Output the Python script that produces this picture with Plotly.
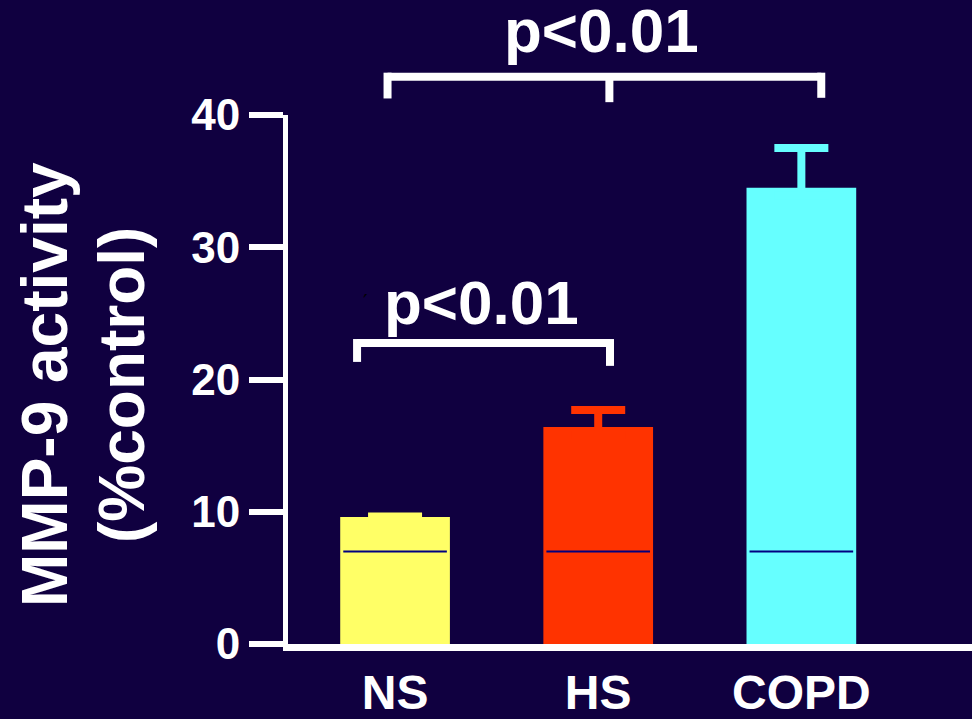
import plotly.graph_objects as go

# ---- data ----
categories = ["NS", "HS", "COPD"]
means = [9.6, 16.4, 34.5]
errors_up = [0.05, 1.3, 3.0]
inner_line = [7.0, 7.0, 7.0]
bar_colors = ["#FFFF66", "#FF3300", "#66FFFF"]
y_ticks = [0, 10, 20, 30, 40]
y_max = 40

# significance brackets (data units)
brackets = [
    dict(x0=-0.037, x1=2.098, xm=1.055, y=42.9, y0=41.25, y1=41.3, ym=40.97,
         label="p<0.01", lx=1.018, ly=46.4),
    dict(x0=-0.187, x1=1.058, xm=None, y=22.76, y0=21.33, y1=21.03, ym=None,
         label="p<0.01", lx=0.426, ly=25.85),
]

FONT = "Liberation Sans, Arial, sans-serif"
BG = "#100040"

fig = go.Figure()
bar_w = 0.54
for i, (cat, m, c) in enumerate(zip(categories, means, bar_colors)):
    fig.add_trace(go.Bar(
        x=[i], y=[m], width=bar_w, marker=dict(color=c, line=dict(width=0)),
        showlegend=False, hoverinfo="skip"))

# upper error bars; base sunk inside the bar so the lower cap is hidden
sink = 0.6
for i, (m, e, c) in enumerate(zip(means, errors_up, bar_colors)):
    fig.add_trace(go.Scatter(
        x=[i], y=[m - sink], mode="markers", marker=dict(size=1, color=c, opacity=0),
        error_y=dict(type="data", array=[e + sink], arrayminus=[0], symmetric=False,
                     color=c, thickness=8, width=27),
        showlegend=False, hoverinfo="skip"))

# thin navy lines inside bars
lx, ly = [], []
for i, v in enumerate(inner_line):
    lx += [i - bar_w / 2 + 0.015, i + bar_w / 2 - 0.015, None]
    ly += [v, v, None]
fig.add_trace(go.Scatter(x=lx, y=ly, mode="lines", line=dict(color="#000080", width=2),
                         showlegend=False, hoverinfo="skip"))

shapes = []
annotations = []
lw = 8


def p(v):
    return v / y_max


for b in brackets:
    shapes.append(dict(type="line", xref="x", yref="paper", x0=b["x0"], x1=b["x1"],
                       y0=p(b["y"]), y1=p(b["y"]), line=dict(color="white", width=lw)))
    shapes.append(dict(type="line", xref="x", yref="paper", x0=b["x0"], x1=b["x0"],
                       y0=p(b["y"] + 0.3), y1=p(b["y0"]), line=dict(color="white", width=lw)))
    shapes.append(dict(type="line", xref="x", yref="paper", x0=b["x1"], x1=b["x1"],
                       y0=p(b["y"] + 0.3), y1=p(b["y1"]), line=dict(color="white", width=lw)))
    if b["xm"] is not None:
        shapes.append(dict(type="line", xref="x", yref="paper", x0=b["xm"], x1=b["xm"],
                           y0=p(b["y"]), y1=p(b["ym"]), line=dict(color="white", width=lw)))
    annotations.append(dict(text=b["label"], xref="x", yref="paper", x=b["lx"], y=p(b["ly"]),
                            xanchor="center", yanchor="middle", showarrow=False,
                            font=dict(family=FONT, size=62, color="white", weight="bold")))

# stray mark
annotations.append(dict(text="′", xref="x", yref="paper", x=-0.145, y=27.0 / y_max,
                        showarrow=False, font=dict(family="DejaVu Sans", size=20, color="black")))

# y-axis title (two lines)
for txt, xs in [("MMP-9 activity", 45 - 288), ("(%control)", 122 - 288)]:
    annotations.append(dict(text=txt, xref="paper", yref="paper", x=0, y=(646.5 - 386) / 532,
                            xshift=xs, xanchor="center", yanchor="middle", textangle=-90,
                            showarrow=False,
                            font=dict(family=FONT, size=64, color="white", weight="bold")))

fig.update_layout(
    width=972, height=719,
    margin=dict(l=288, r=0, t=115, b=72, pad=0),
    paper_bgcolor=BG, plot_bgcolor=BG,
    barmode="overlay",
    shapes=shapes, annotations=annotations,
    xaxis=dict(range=[-0.527, 2.84], tickmode="array", tickvals=[0, 1, 2], ticktext=categories,
               showgrid=False, zeroline=False, showline=True, linecolor="white", linewidth=7,
               ticks="", tickfont=dict(family=FONT, size=48, color="white", weight="bold"),
               fixedrange=True),
    yaxis=dict(range=[0, y_max], tickmode="array", tickvals=y_ticks,
               showgrid=False, zeroline=False, showline=True, linecolor="white", linewidth=5,
               ticks="outside", ticklen=34, tickwidth=6, tickcolor="white",
               tickfont=dict(family=FONT, size=44, color="white", weight="bold"),
               fixedrange=True),
)

fig.write_html("out.html")
